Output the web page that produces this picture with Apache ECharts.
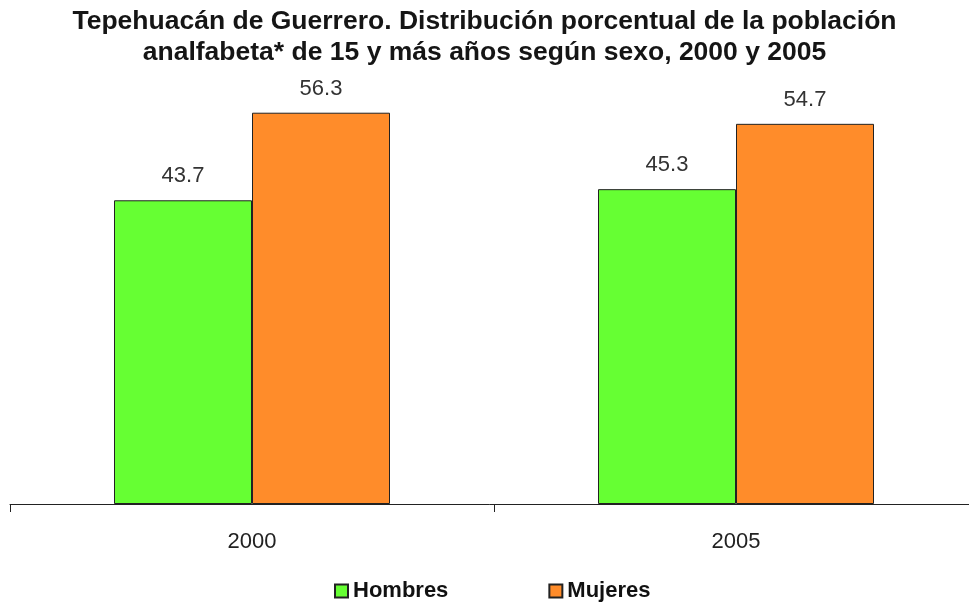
<!DOCTYPE html>
<html><head><meta charset="utf-8">
<script src="https://cdn.jsdelivr.net/npm/echarts@6/dist/echarts.min.js"></script>
<style>html,body{margin:0;padding:0;background:#fff}#c{width:969px;height:607px}</style>
</head><body><div id="c"></div>
<script>
const categories = ['2000', '2005'];
const hombres = [43.7, 45.3];
const mujeres = [56.3, 54.7];
const seriesNames = ['Hombres', 'Mujeres'];

const chart = echarts.init(document.getElementById('c'));
chart.setOption({
  backgroundColor: '#fff',
  animation: false,
  title: {
    text: 'Tepehuacán de Guerrero. Distribución porcentual de la población\nanalfabeta* de 15 y más años según sexo, 2000 y 2005',
    left: 'center', top: 6, padding: 0,
    textStyle: { fontFamily: 'Liberation Sans', fontSize: 26.5, fontWeight: 'bold', color: '#151515', lineHeight: 31 }
  },
  legend: {
    top: 580, left: 334, itemWidth: 13, itemHeight: 13, itemGap: 100, padding: 0,
    icon: 'rect',
    textStyle: { fontFamily: 'Liberation Sans', fontSize: 22, fontWeight: 'bold', color: '#111' },
    data: seriesNames
  },
  grid: { left: 10, top: 87, bottom: 103, width: 968, outerBoundsMode: 'none', containLabel: false },
  xAxis: {
    type: 'category', data: categories,
    axisLine: { lineStyle: { color: '#222', width: 1 } },
    axisTick: { show: true, length: 8, lineStyle: { color: '#222' } },
    axisLabel: { margin: 27, fontFamily: 'Liberation Sans', fontSize: 22, color: '#222' }
  },
  yAxis: {
    type: 'value', min: 0, max: 60, show: false, splitLine: { show: false }
  },
  series: [
    {
      name: seriesNames[0], type: 'bar', data: hombres, barWidth: 138, barGap: '0%',
      itemStyle: { color: '#66ff33', borderColor: '#222', borderWidth: 1 },
      label: { show: true, position: 'top', distance: 13, fontFamily: 'Liberation Sans', fontSize: 22, color: '#333' }
    },
    {
      name: seriesNames[1], type: 'bar', data: mujeres, barWidth: 138,
      itemStyle: { color: '#ff8c2a', borderColor: '#222', borderWidth: 1 },
      label: { show: true, position: 'top', distance: 13, fontFamily: 'Liberation Sans', fontSize: 22, color: '#333' }
    }
  ]
});
</script></body></html>
